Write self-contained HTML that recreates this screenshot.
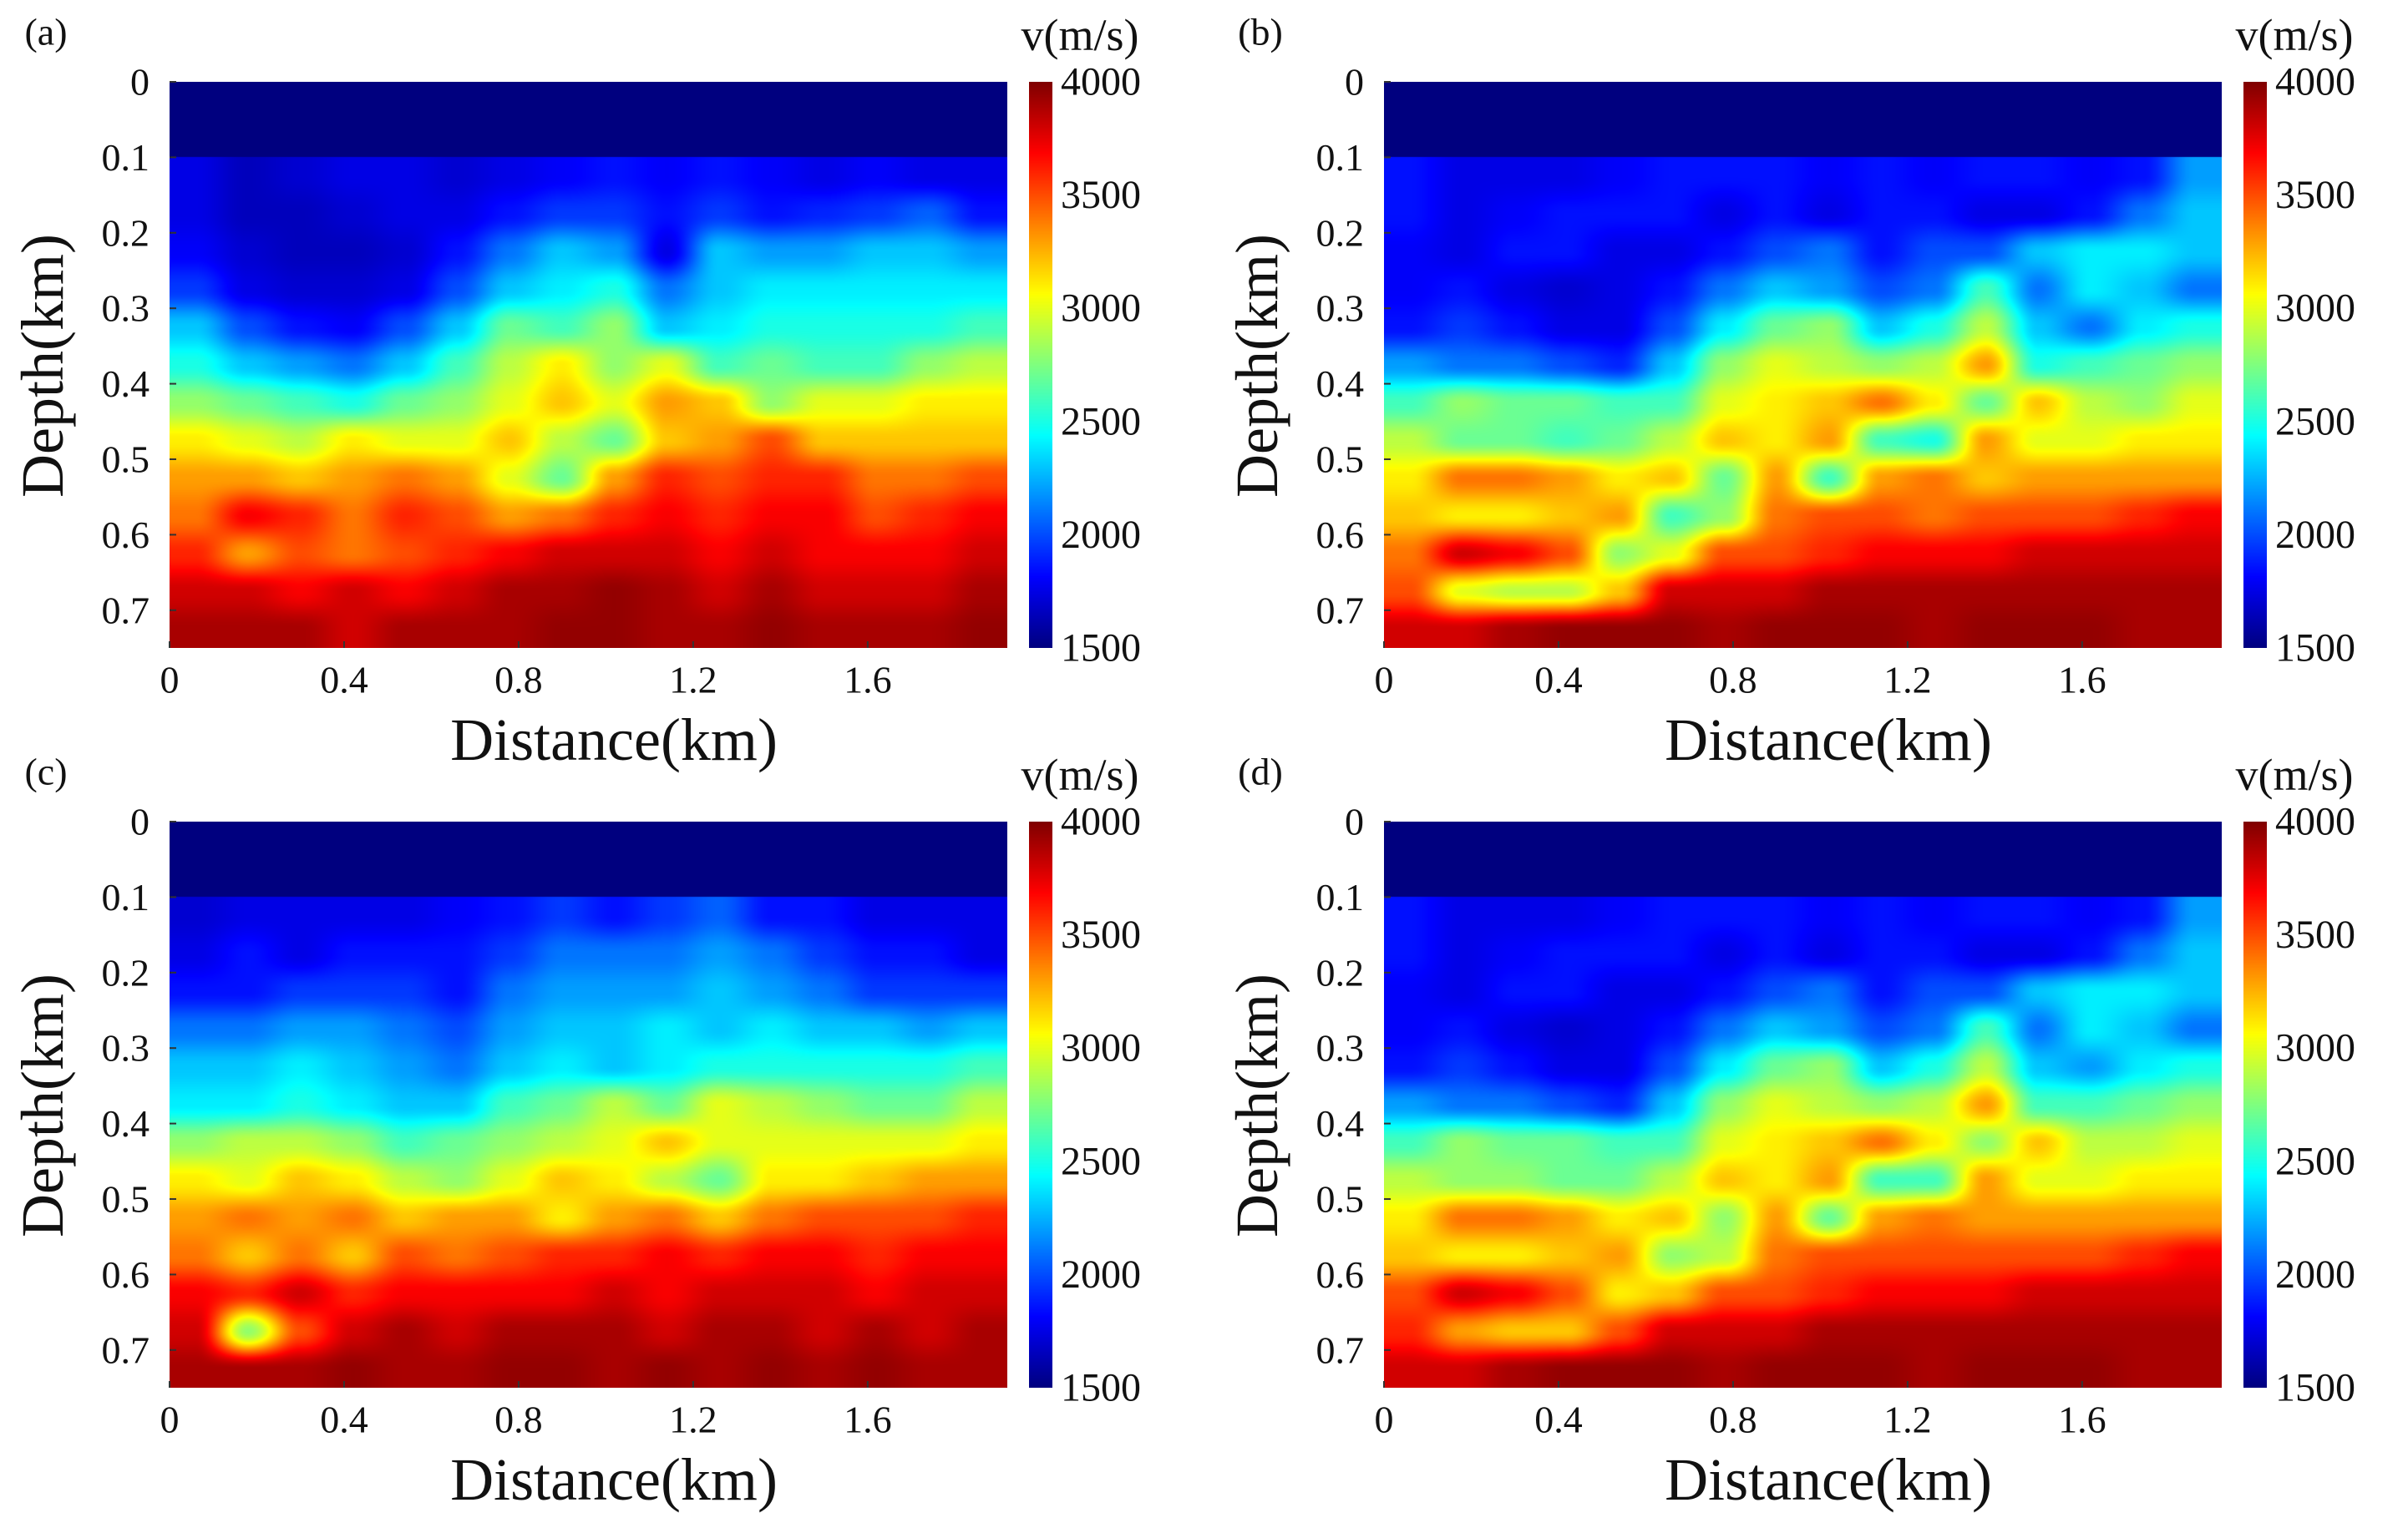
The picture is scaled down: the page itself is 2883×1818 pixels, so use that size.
<!DOCTYPE html>
<html><head><meta charset="utf-8">
<style>
html,body{margin:0;padding:0;background:#fff;}
#fig{position:relative;width:2883px;height:1818px;overflow:hidden;background:#fff;font-family:"Liberation Serif",serif;}
canvas{position:absolute;}
svg{position:absolute;left:0;top:0;}
</style></head>
<body>
<div id="fig">
<svg id="svg" width="2883" height="1818"></svg>
</div>
<script>
// ---- data ----
const depthTicks = [0, 0.1, 0.2, 0.3, 0.4, 0.5, 0.6, 0.7];
const depthTickLabels = ["0","0.1","0.2","0.3","0.4","0.5","0.6","0.7"];
const distTicks = [0, 0.4, 0.8, 1.2, 1.6];
const distTickLabels = ["0","0.4","0.8","1.2","1.6"];
const cbTicks = [1500, 2000, 2500, 3000, 3500, 4000];
const cbTickLabels = ["1500","2000","2500","3000","3500","4000"];
const panelLabels = ["(a)","(b)","(c)","(d)"];
const waterDepth = 0.1;
const waterVelocity = 1500;
const xMax = 1.92, zMax = 0.75, vMin = 1500, vMax = 4000;
// rows: depth 0.125..0.725 step 0.05 ; cols: distance 0.06..1.86 step 0.12
const gridA = [
[1750,1650,1700,1750,1750,1700,1750,1800,1850,1800,1850,1800,1750,1800,1750,1750],
[1750,1650,1650,1700,1750,1750,1850,1950,1950,1850,1950,1850,1900,1950,2050,1850],
[1800,1700,1650,1650,1700,1850,2100,2300,2200,1750,2300,2200,2200,2300,2300,2200],
[1950,1750,1700,1700,1750,2000,2300,2400,2500,2100,2300,2400,2400,2400,2400,2400],
[2300,2000,1850,1800,2000,2300,2700,2600,2800,2300,2400,2500,2500,2500,2500,2600],
[2500,2300,2200,2100,2300,2600,2900,3100,2800,3000,2600,2700,2600,2600,2800,2900],
[2800,2700,2600,2500,2700,2800,3000,3200,3000,3300,3200,2800,3000,3000,3100,3100],
[3100,3000,2900,3100,3000,3000,3200,2900,2700,3200,3300,3500,3200,3200,3200,3200],
[3300,3300,3200,3300,3400,3300,3000,2700,3300,3600,3500,3600,3600,3400,3400,3500],
[3400,3700,3600,3400,3600,3500,3300,3400,3600,3700,3600,3700,3700,3500,3600,3700],
[3600,3300,3500,3400,3500,3600,3700,3800,3800,3800,3700,3800,3700,3700,3700,3800],
[3800,3800,3700,3800,3700,3800,3900,3900,3950,3900,3800,3900,3800,3800,3800,3900],
[3900,3900,3900,3800,3900,3900,3900,3950,3950,3900,3900,3950,3900,3900,3900,3950]];
const gridB = [
[1850,1750,1750,1750,1800,1850,1850,1850,1800,1850,1800,1850,1850,1800,1850,2200],
[1850,1750,1800,1850,1850,1850,1750,1850,1750,1850,1850,1750,1750,1850,2100,2300],
[1800,1750,1850,1850,1750,1750,1850,2000,2100,1850,2000,2000,2300,2400,2400,2300],
[1800,1850,1750,1700,1750,1850,2100,2300,2200,2000,2100,2600,2100,2400,2300,2100],
[1850,1950,1850,1750,1750,2000,2400,2700,2800,2300,2500,2900,2300,2100,2400,2500],
[2200,2100,2100,2000,1900,2300,2800,3000,2900,2800,2900,3300,2500,2600,2700,2800],
[2600,2800,2700,2700,2600,2600,3000,3100,3200,3400,3100,2700,3200,2900,2800,3000],
[2900,2700,2700,2600,2700,2900,3200,3100,3300,2600,2500,3300,3000,3000,3100,3100],
[3100,3400,3400,3300,3100,3200,2700,3300,2600,3300,3400,3200,3300,3300,3300,3300],
[3200,3100,3100,3200,3300,2600,2800,3400,3500,3500,3400,3500,3500,3500,3600,3700],
[3400,3800,3700,3500,2800,3000,3500,3500,3600,3700,3700,3700,3800,3800,3800,3800],
[3500,3000,2900,2900,3200,3800,3800,3800,3900,3900,3900,3900,3900,3900,3900,3900],
[3800,3800,3900,3950,3950,3950,3900,3950,3950,3950,3900,3950,3950,3950,3900,3900]];
const gridC = [
[1700,1750,1750,1750,1750,1800,1850,1950,1850,1950,2050,1850,1850,1750,1750,1750],
[1750,1850,1750,1850,1850,1850,1950,2100,2100,2100,2200,2100,1950,1850,1850,1750],
[1850,1850,1950,1950,1950,1850,2100,2200,2200,2200,2300,2200,2100,1950,1950,1950],
[2100,2100,2200,2200,2100,2000,2200,2300,2300,2400,2300,2400,2300,2300,2200,2300],
[2300,2300,2400,2300,2200,2100,2300,2400,2300,2400,2500,2500,2500,2500,2500,2600],
[2400,2400,2500,2400,2300,2300,2600,2700,2900,2700,3000,2900,2800,2700,2700,2900],
[2800,2900,2900,2800,2600,2700,2800,2900,3000,3200,3000,3000,3000,3000,3000,3100],
[3100,3000,3200,3100,2900,2800,3000,3200,3100,2900,2700,3100,3100,3200,3300,3300],
[3300,3400,3300,3400,3200,3300,3300,3100,3300,3400,3200,3400,3500,3500,3500,3600],
[3400,3200,3400,3200,3500,3400,3500,3600,3600,3700,3600,3700,3700,3600,3700,3700],
[3700,3600,3800,3600,3700,3700,3700,3700,3800,3700,3800,3800,3800,3700,3800,3800],
[3800,2800,3500,3800,3900,3800,3900,3900,3900,3800,3900,3900,3800,3900,3800,3900],
[3900,3900,3900,3950,3900,3900,3950,3950,3900,3950,3900,3950,3900,3950,3900,3900]];
const gridD = [
[1850,1750,1750,1750,1800,1850,1850,1850,1800,1850,1800,1850,1850,1800,1850,2200],
[1850,1750,1800,1850,1850,1850,1750,1850,1750,1850,1850,1750,1750,1850,2100,2300],
[1800,1750,1850,1850,1750,1750,1850,2000,2100,1850,2000,2000,2300,2400,2400,2300],
[1800,1850,1750,1700,1750,1850,2100,2300,2200,2000,2100,2600,2100,2400,2300,2100],
[1850,1950,1850,1750,1750,2000,2400,2700,2800,2300,2500,2900,2300,2200,2400,2500],
[2200,2100,2100,2000,1900,2300,2800,3000,2900,2800,2900,3300,2600,2600,2700,2800],
[2600,2800,2700,2700,2600,2600,3000,3100,3200,3400,3100,2800,3200,2900,2900,3000],
[2900,2800,2800,2700,2700,2900,3200,3100,3300,2600,2600,3300,3000,3000,3100,3100],
[3100,3400,3400,3300,3100,3200,2800,3300,2700,3300,3400,3300,3300,3300,3300,3300],
[3200,3100,3100,3200,3300,2800,2900,3400,3500,3500,3500,3500,3500,3500,3600,3700],
[3500,3800,3700,3500,3100,3200,3500,3500,3600,3700,3700,3700,3800,3800,3800,3800],
[3600,3300,3200,3200,3500,3800,3800,3800,3900,3900,3900,3900,3900,3900,3900,3900],
[3800,3800,3900,3950,3950,3950,3900,3950,3950,3950,3900,3950,3950,3950,3900,3900]];
const grids = [gridA, gridB, gridC, gridD];

// ---- layout ----
const PW = 1003, PH = 678;
const origins = [[203,98],[1657,98],[203,984],[1657,984]];
const CB_DX = 1029, CB_W = 28;
const fig = document.getElementById('fig');
const svg = document.getElementById('svg');
const NS = 'http://www.w3.org/2000/svg';

function jet(v){
  let t = (v - vMin)/(vMax - vMin); t = Math.max(0, Math.min(1, t));
  const f = x => Math.max(0, Math.min(1, x));
  const r = f(Math.min(4*t-1.5, -4*t+4.5));
  const g = f(Math.min(4*t-0.5, -4*t+3.5));
  const b = f(Math.min(4*t+0.5, -4*t+2.5));
  return [r*255|0, g*255|0, b*255|0];
}
function sampleGrid(grid, x, z){
  if (z < waterDepth) return waterVelocity;
  const rows = grid.length, cols = grid[0].length;
  const dz = (zMax - waterDepth)/rows, dx = xMax/cols;
  let fr = (z - waterDepth)/dz - 0.5, fc = x/dx - 0.5;
  fr = Math.max(0, Math.min(rows-1, fr)); fc = Math.max(0, Math.min(cols-1, fc));
  const r0 = Math.floor(fr), c0 = Math.floor(fc);
  const r1 = Math.min(rows-1, r0+1), c1 = Math.min(cols-1, c0+1);
  let ar = fr - r0, ac = fc - c0;
  ar = ar*ar*(3-2*ar); ac = ac*ac*(3-2*ac);
  const top = grid[r0][c0]*(1-ac) + grid[r0][c1]*ac;
  const bot = grid[r1][c0]*(1-ac) + grid[r1][c1]*ac;
  return top*(1-ar) + bot*ar;
}
function addText(txt, x, y, size, anchor, name, rot){
  const t = document.createElementNS(NS, 'text');
  t.setAttribute('x', x); t.setAttribute('y', y);
  t.setAttribute('font-size', size);
  t.setAttribute('font-family', 'Liberation Serif, serif');
  t.setAttribute('text-anchor', anchor);
  t.setAttribute('dominant-baseline', 'central');
  t.setAttribute('fill', '#111');
  if (rot) t.setAttribute('transform', 'rotate(-90 ' + x + ' ' + y + ')');
  t.textContent = txt;
  
  
  svg.appendChild(t);
}
function addLine(x1,y1,x2,y2,name){
  const l = document.createElementNS(NS, 'line');
  l.setAttribute('x1',x1); l.setAttribute('y1',y1); l.setAttribute('x2',x2); l.setAttribute('y2',y2);
  l.setAttribute('stroke','#333'); l.setAttribute('stroke-width','2');
  
  
  svg.appendChild(l);
}

origins.forEach((o, p) => {
  const [ox, oy] = o;
  const xs = x => ox + x/xMax*PW;
  const ys = z => oy + z/zMax*PH;
  const cv = document.createElement('canvas');
  cv.width = PW; cv.height = PH;
  cv.style.left = ox + 'px'; cv.style.top = oy + 'px';
  
  
  fig.insertBefore(cv, svg);
  const ctx = cv.getContext('2d');
  const img = ctx.createImageData(PW, PH);
  for (let py = 0; py < PH; py++){
    const z = (py + 0.5)/PH*zMax;
    for (let px = 0; px < PW; px++){
      const x = (px + 0.5)/PW*xMax;
      const c = jet(sampleGrid(grids[p], x, z));
      const i = (py*PW + px)*4;
      img.data[i]=c[0]; img.data[i+1]=c[1]; img.data[i+2]=c[2]; img.data[i+3]=255;
    }
  }
  ctx.putImageData(img, 0, 0);
  const cb = document.createElement('canvas');
  cb.width = CB_W; cb.height = PH;
  cb.style.left = (ox + CB_DX) + 'px'; cb.style.top = oy + 'px';
  
  
  fig.insertBefore(cb, svg);
  const cctx = cb.getContext('2d');
  for (let py = 0; py < PH; py++){
    const v = vMax - (py + 0.5)/PH*(vMax - vMin);
    const c = jet(v);
    cctx.fillStyle = 'rgb(' + c.join(',') + ')';
    cctx.fillRect(0, py, CB_W, 1);
  }
  const cbY = v => oy + (vMax - v)/(vMax - vMin)*PH;
  cbTicks.forEach((v, i) => {
    addText(cbTickLabels[i], ox + CB_DX + CB_W + 10, cbY(v), 48, 'start', 'colorbar-tick-label');
  });
  addText('v(m/s)', ox + 1090, oy - 56, 54, 'middle', 'colorbar-title');
  depthTicks.forEach((z, i) => {
    addText(depthTickLabels[i], ox - 24, ys(z), 46, 'end', 'y-tick-label');
    addLine(ox, ys(z), ox + 8, ys(z), 'y-tick');
  });
  distTicks.forEach((x, i) => {
    addText(distTickLabels[i], xs(x), oy + PH + 38, 46, 'middle', 'x-tick-label');
    addLine(xs(x), oy + PH, xs(x), oy + PH - 8, 'x-tick');
  });
  addText('Distance(km)', ox + 532, oy + PH + 110, 72, 'middle', 'x-axis-title');
  addText('Depth(km)', ox - 152, oy + 340, 72, 'middle', 'y-axis-title', true);
  addText(panelLabels[p], ox - 148, oy - 60, 46, 'middle', 'panel-label');
});
</script>
</body></html>
